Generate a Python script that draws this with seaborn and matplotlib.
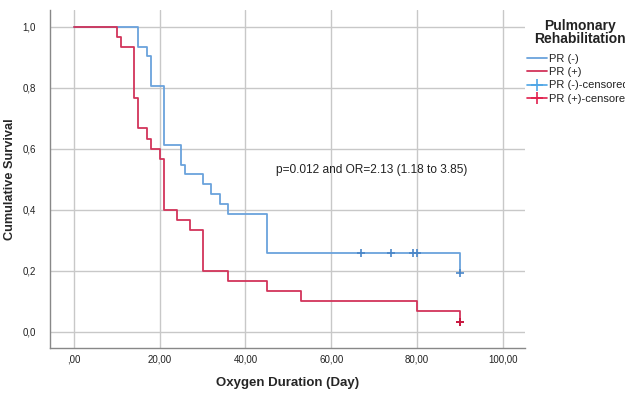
import matplotlib
matplotlib.use("Agg")
import matplotlib.pyplot as plt
from matplotlib.lines import Line2D
import seaborn as sns
import pandas as pd

# Kaplan-Meier step points
neg_time = [0, 15, 17, 18, 21, 25, 26, 30, 32, 34, 36, 45, 90]
neg_surv = [1.0, 0.935, 0.903, 0.806, 0.613, 0.548, 0.516, 0.484, 0.452, 0.419, 0.387, 0.258, 0.194]
neg_cens_time = [67, 74, 79, 80, 90]
neg_cens_surv = [0.258, 0.258, 0.258, 0.258, 0.194]

pos_time = [0, 10, 11, 14, 15, 17, 18, 20, 21, 24, 27, 30, 36, 45, 53, 80, 90]
pos_surv = [1.0, 0.967, 0.933, 0.767, 0.667, 0.633, 0.6, 0.567, 0.4, 0.367, 0.333, 0.2, 0.167, 0.133, 0.1, 0.067, 0.033]
pos_cens_time = [90]
pos_cens_surv = [0.033]

groups = ["PR (-)", "PR (+)"]
x_ticks = [0, 20, 40, 60, 80, 100]
x_tick_labels = [",00", "20,00", "40,00", "60,00", "80,00", "100,00"]
y_ticks = [0.0, 0.2, 0.4, 0.6, 0.8, 1.0]
y_tick_labels = ["0,0", "0,2", "0,4", "0,6", "0,8", "1,0"]
annotation = "p=0.012 and OR=2.13 (1.18 to 3.85)"
legend_title = "Pulmonary\nRehabilitation"
legend_labels = ["PR (-)", "PR (+)", "PR (-)-censored", "PR (+)-censored"]

blue = "#6aa2dc"
red = "#d2345a"
blue_c = "#4fa6e6"
red_c = "#e0204e"

sns.set_style("white")
plt.rcParams["font.family"] = ["Liberation Sans", "DejaVu Sans"]

fig = plt.figure(figsize=(6.25, 3.93), dpi=100)
ax = fig.add_axes([0.08, 0.1145, 0.76, 0.86])

df = pd.concat([
    pd.DataFrame({"t": neg_time, "s": neg_surv, "g": groups[0]}),
    pd.DataFrame({"t": pos_time, "s": pos_surv, "g": groups[1]}),
])
sns.lineplot(data=df, x="t", y="s", hue="g", palette={groups[0]: blue, groups[1]: red},
             estimator=None, sort=False, drawstyle="steps-post", legend=False, ax=ax,
             linewidth=1.3, zorder=3)

sns.scatterplot(x=neg_cens_time, y=neg_cens_surv, marker="+", color="#4a86c8", s=40,
                linewidth=1.2, ax=ax, zorder=4)
sns.scatterplot(x=pos_cens_time, y=pos_cens_surv, marker="+", color="#c8163e", s=40,
                linewidth=1.4, ax=ax, zorder=4)

ax.set_xlim(-5.6, 105.2)
ax.set_ylim(-0.053, 1.055)
ax.set_xticks(x_ticks)
ax.set_xticklabels(x_tick_labels)
ax.set_yticks(y_ticks)
ax.set_yticklabels(y_tick_labels)
ax.tick_params(axis="both", length=0, labelsize=7, colors="#222222")
ax.tick_params(axis="x", pad=5)
ax.tick_params(axis="y", pad=10)
ax.grid(True, color="#c8c8c8", linewidth=1.0)
ax.set_axisbelow(True)
for side in ["top", "right"]:
    ax.spines[side].set_visible(False)
for side in ["left", "bottom"]:
    ax.spines[side].set_color("#888888")
    ax.spines[side].set_linewidth(1.0)

ax.set_xlabel("Oxygen Duration (Day)", fontsize=9.5, fontweight="bold", labelpad=9)
ax.set_ylabel("Cumulative Survival", fontsize=9.2, fontweight="bold", labelpad=5)

ax.text(69.5, 0.532, annotation, fontsize=8.6, ha="center", va="center", color="#222222")

fig.text(0.928, 0.918, legend_title, fontsize=10, fontweight="bold", ha="center",
         va="center", multialignment="center", linespacing=0.95, color="#222222")

handles = [
    Line2D([], [], color=blue, lw=1.3),
    Line2D([], [], color=red, lw=1.3),
    Line2D([], [], color=blue_c, lw=1.2, marker="+", markersize=8, markeredgewidth=1.2),
    Line2D([], [], color=red_c, lw=1.2, marker="+", markersize=8, markeredgewidth=1.2),
]
leg = fig.legend(handles, legend_labels, loc="upper left",
                 bbox_to_anchor=(0.843, 0.862), frameon=False, fontsize=8,
                 handlelength=1.8, handletextpad=0.2, labelspacing=0.28, borderaxespad=0,
                 borderpad=0)
for t in leg.get_texts():
    t.set_color("#222222")

fig.savefig("out.png", dpi=100)
